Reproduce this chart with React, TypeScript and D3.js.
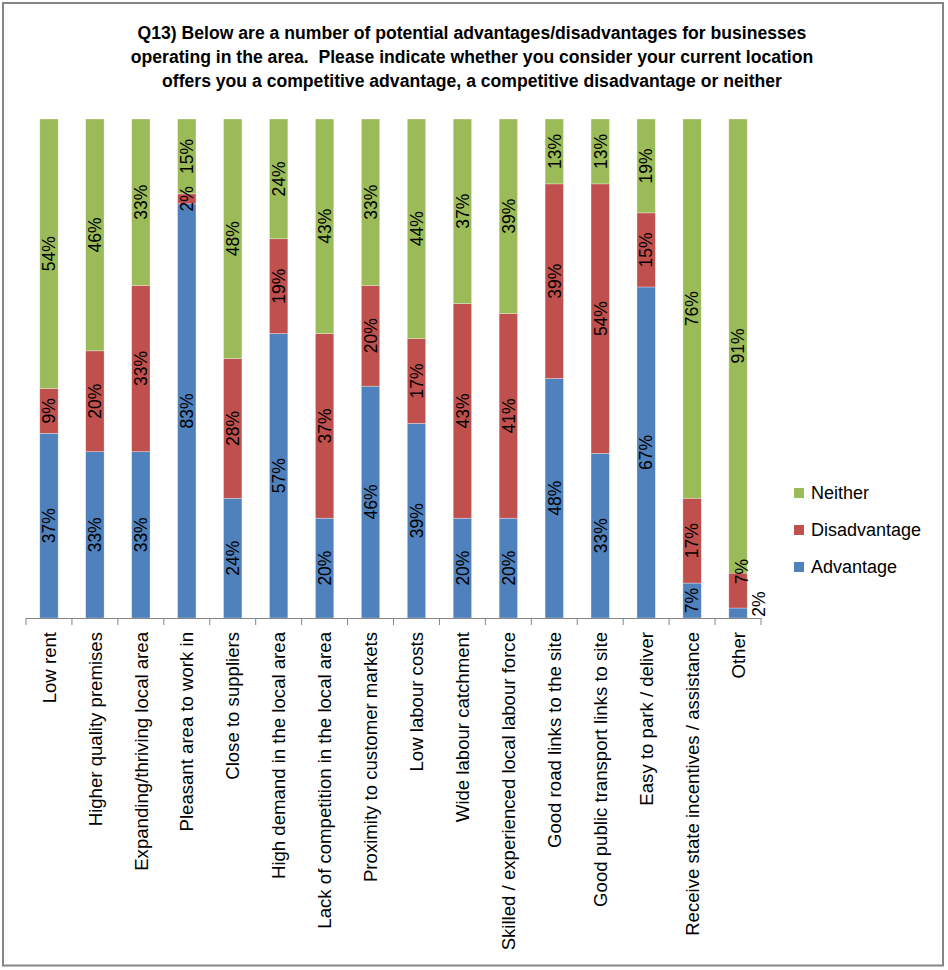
import * as React from 'react';
import * as d3 from 'd3';

const categories = [
  'Low rent',
  'Higher quality premises',
  'Expanding/thriving local area',
  'Pleasant area to work in',
  'Close to suppliers',
  'High demand in the local area',
  'Lack of competition in the local area',
  'Proximity to customer markets',
  'Low labour costs',
  'Wide labour catchment',
  'Skilled / experienced local labour force',
  'Good road links to the site',
  'Good public transport links to site',
  'Easy to park / deliver',
  'Receive state incentives / assistance',
  'Other',
];

const advantage = [37, 33, 33, 83, 24, 57, 20, 46, 39, 20, 20, 48, 33, 67, 7, 2];
const disadvantage = [9, 20, 33, 2, 28, 19, 37, 20, 17, 43, 41, 39, 54, 15, 17, 7];
const neither = [54, 46, 33, 15, 48, 24, 43, 33, 44, 37, 39, 13, 13, 19, 76, 91];

const seriesKeys = ['Advantage', 'Disadvantage', 'Neither'];
const seriesColors: Record<string, string> = {
  Advantage: '#4F81BD',
  Disadvantage: '#C0504D',
  Neither: '#9BBB59',
};

const titleLines = [
  'Q13) Below are a number of potential advantages/disadvantages for businesses',
  'operating in the area.  Please indicate whether you consider your current location',
  'offers you a competitive advantage, a competitive disadvantage or neither',
];

// labels that were dragged off their segment in the original
const labelNudge: Record<string, { dx: number; dy: number }> = {
  'Other|Advantage': { dx: 21, dy: -9 },
  'Other|Disadvantage': { dx: 4, dy: -19 },
};

const W = 948;
const H = 970;
const FONT = "'Liberation Sans', Arial, sans-serif";

export default function App() {
  const rows = categories.map((c, i) => ({
    category: c,
    Advantage: advantage[i],
    Disadvantage: disadvantage[i],
    Neither: neither[i],
  }));

  // 100% stacked: each column is normalised to its own total
  const stacked = d3.stack<any>().keys(seriesKeys).offset(d3.stackOffsetExpand)(rows);

  const x = d3.scaleBand().domain(categories).range([26, 761]).padding(0);
  const y = d3.scaleLinear().domain([0, 1]).range([618, 119]);
  const barW = x.bandwidth() * 0.4;
  const ticks = categories.map(c => x(c)!).concat([x.range()[1]]);

  return (
    <svg width={W} height={H} style={{ position: 'absolute', left: 0, top: 0, background: 'white' }} fontFamily={FONT}>
      <rect x={3} y={3} width={940} height={962.5} fill="white" stroke="#858585" strokeWidth={2} />

      {titleLines.map((t, i) => (
        <text key={i} x={472} y={39 + i * 24} textAnchor="middle" fontSize={17.6} fontWeight="bold" fill="#000" style={{ whiteSpace: 'pre' }}>
          {t}
        </text>
      ))}

      {stacked.map(s => (
        <g key={s.key}>
          {s.map((d, i) => {
            const cx = x(categories[i])! + x.bandwidth() / 2;
            return (
              <rect
                key={i}
                x={cx - barW / 2}
                y={y(d[1])}
                width={barW}
                height={y(d[0]) - y(d[1])}
                fill={seriesColors[s.key]}
                stroke="#ffffff"
                strokeOpacity={0.5}
                strokeWidth={0.6}
              />
            );
          })}
        </g>
      ))}

      {stacked.map(s => (
        <g key={s.key + '-lab'}>
          {s.map((d, i) => {
            const nudge = labelNudge[categories[i] + '|' + s.key] || { dx: 0, dy: 0 };
            const cx = x(categories[i])! + x.bandwidth() / 2 + nudge.dx;
            const cy = (y(d[0]) + y(d[1])) / 2 + nudge.dy;
            return (
              <text
                key={i}
                transform={`translate(${cx},${cy}) rotate(-90)`}
                textAnchor="middle"
                dy="0.36em"
                fontSize={17.5}
                fill="#000"
              >
                {(d.data as any)[s.key] + '%'}
              </text>
            );
          })}
        </g>
      ))}

      <line x1={x.range()[0]} x2={x.range()[1]} y1={618.5} y2={618.5} stroke="#868686" strokeWidth={1} />
      {ticks.map((t, i) => (
        <line key={i} x1={t} x2={t} y1={618} y2={625} stroke="#868686" strokeWidth={1} />
      ))}

      {categories.map(c => (
        <text
          key={c}
          transform={`translate(${x(c)! + x.bandwidth() / 2},632) rotate(-90)`}
          textAnchor="end"
          dy="0.36em"
          fontSize={18.6}
          fill="#000"
        >
          {c}
        </text>
      ))}

      {[...seriesKeys].reverse().map((k, i) => (
        <g key={k} transform={`translate(794,${493 + i * 37})`}>
          <rect x={0} y={-5} width={10} height={10} fill={seriesColors[k]} />
          <text x={17} y={0} dy="0.36em" fontSize={18} fill="#000">{k}</text>
        </g>
      ))}
    </svg>
  );
}
